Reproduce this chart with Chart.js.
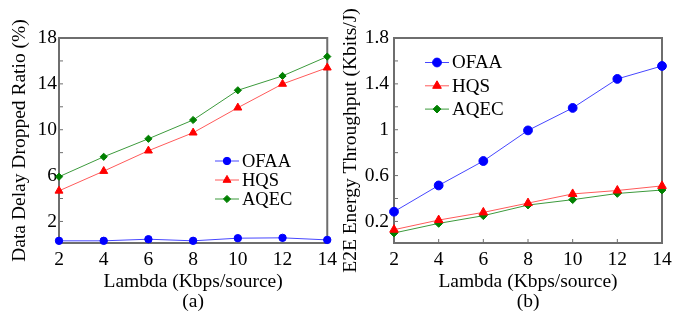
<!DOCTYPE html>
<html>
<head>
<meta charset="utf-8">
<script src="https://cdn.jsdelivr.net/npm/chart.js@4.4.1/dist/chart.umd.min.js"></script>
<style>
  html, body { margin: 0; padding: 0; background: #fff; }
  #wrap { position: relative; width: 684px; height: 321px; }
  canvas { position: absolute; top: 0; }
  #chartA { left: 0; }
  #chartB { left: 342px; }
</style>
</head>
<body>
<div id="wrap">
  <canvas id="chartA" width="342" height="321"></canvas>
  <canvas id="chartB" width="342" height="321"></canvas>
</div>
<script>
// x values (Kbps/source)
const lambda = [2, 4, 6, 8, 10, 12, 14];

// (a) data delay dropped ratio, %
const dropOFAA = [0.31, 0.31, 0.45, 0.31, 0.54, 0.57, 0.39];
const dropHQS  = [4.67, 6.39, 8.17, 9.74, 11.92, 13.99, 15.41];
const dropAQEC = [5.9, 7.64, 9.21, 10.85, 13.44, 14.69, 16.38];

// (b) e2e energy throughput, Kbits/J
const energyOFAA = [0.285, 0.514, 0.727, 0.994, 1.19, 1.443, 1.556];
const energyHQS  = [0.128, 0.212, 0.279, 0.36, 0.44, 0.47, 0.51];
const energyAQEC = [0.099, 0.183, 0.25, 0.343, 0.39, 0.444, 0.474];

const seriesNames = ["OFAA", "HQS", "AQEC"];

const yTicksA = [2, 6, 10, 14, 18];
const yMinorA = [4, 8, 12, 16];
const yTicksB = [0.2, 0.6, 1, 1.4, 1.8];
const yMinorB = [0.4, 0.8, 1.2, 1.6];

const FONT = "'Liberation Serif', 'Times New Roman', serif";

const styles = [
  { line: "#4646ff", point: "#0000ff", shape: "circle" },
  { line: "#ff5a5a", point: "#ff0000", shape: "triangle" },
  { line: "#3c9a3c", point: "#008000", shape: "rectRot" }
];

// frame + inward ticks (bottom and left only)
const framePlugin = {
  id: "frame",
  beforeDatasetsDraw(chart, args, opts) {
    const { ctx, chartArea: a, scales } = chart;
    ctx.save();
    ctx.strokeStyle = "#6e6e6e";
    ctx.lineWidth = 1;
    ctx.beginPath();
    for (let i = 0; i < lambda.length; i++) {
      const x = scales.x.getPixelForValue(i);
      ctx.moveTo(x, a.bottom);
      ctx.lineTo(x, a.bottom - 4);
    }
    for (const v of opts.major.concat(opts.minor)) {
      const y = scales.y.getPixelForValue(v);
      ctx.moveTo(a.left, y);
      ctx.lineTo(a.left + 4, y);
    }
    ctx.stroke();
    ctx.lineWidth = 2;
    ctx.strokeRect(a.left, a.top, a.right - a.left, a.bottom - a.top);
    ctx.restore();
  }
};

// legend drawn inside the plot
const boxLegend = {
  id: "boxLegend",
  afterDatasetsDraw(chart, args, opts) {
    const { ctx } = chart;
    ctx.save();
    chart.data.datasets.forEach((ds, i) => {
      const y = opts.y + i * opts.gap;
      ctx.strokeStyle = ds.borderColor;
      ctx.lineWidth = 1;
      ctx.beginPath();
      ctx.moveTo(opts.x, y);
      ctx.lineTo(opts.x + opts.len, y);
      ctx.stroke();
      ctx.fillStyle = ds.pointBackgroundColor;
      ctx.strokeStyle = ds.pointBackgroundColor;
      Chart.helpers.drawPoint(ctx, {
        pointStyle: ds.pointStyle,
        radius: ds.pointRadius,
        rotation: 0,
        borderWidth: 1
      }, opts.x + opts.len / 2, y);
      ctx.fillStyle = "#000";
      ctx.font = opts.size + "px " + FONT;
      ctx.textBaseline = "middle";
      ctx.textAlign = "left";
      ctx.fillText(ds.label, opts.x + opts.len + 3, y + 1);
    });
    ctx.restore();
  }
};

function makeDatasets(values, radii) {
  return values.map((vals, i) => ({
    label: seriesNames[i],
    data: vals,
    borderColor: styles[i].line,
    borderWidth: 1,
    pointStyle: styles[i].shape,
    pointRadius: radii[i],
    pointBackgroundColor: styles[i].point,
    pointBorderColor: styles[i].point,
    pointBorderWidth: 1,
    tension: 0,
    clip: false
  }));
}

function makeChart(id, cfg) {
  const tickFont = { family: FONT, size: 19.5 };
  return new Chart(document.getElementById(id), {
    type: "line",
    data: {
      labels: lambda.map(String),
      datasets: makeDatasets(cfg.values, cfg.radii)
    },
    options: {
      responsive: false,
      animation: false,
      events: [],
      layout: { padding: { left: 0, right: cfg.padRight, top: 38, bottom: 0 } },
      plugins: {
        legend: { display: false },
        tooltip: { enabled: false },
        frame: { major: cfg.yTicks, minor: cfg.yMinor },
        boxLegend: cfg.legend
      },
      scales: {
        x: {
          type: "category",
          offset: false,
          grid: { display: false, drawTicks: false },
          border: { display: false },
          ticks: { color: "#000", font: tickFont, padding: 5, maxRotation: 0 },
          afterFit: s => { s.height = 78; },
          title: {
            display: true,
            text: ["Lambda (Kbps/source)", cfg.caption],
            color: "#000",
            font: { family: FONT, size: 19.5, lineHeight: 20 / 19.5 },
            padding: { top: 0, bottom: 9 }
          }
        },
        y: {
          min: cfg.yMin,
          max: cfg.yMax,
          afterBuildTicks: s => { s.ticks = cfg.yTicks.map(v => ({ value: v })); },
          afterFit: s => { s.width = cfg.yWidth; },
          grid: { display: false, drawTicks: false },
          border: { display: false },
          ticks: { color: "#000", font: tickFont, padding: cfg.tickPad, callback: v => String(v) },
          title: {
            display: true,
            text: cfg.yTitle,
            color: "#000",
            font: { family: FONT, size: 19.5, lineHeight: 1 },
            padding: { top: cfg.titlePad, bottom: 0 }
          }
        }
      }
    },
    plugins: [framePlugin, boxLegend]
  });
}

makeChart("chartA", {
  values: [dropOFAA, dropHQS, dropAQEC],
  radii: [3.7, 4.6, 3.6],
  yMin: 0.12, yMax: 18,
  yTicks: yTicksA, yMinor: yMinorA,
  yWidth: 59, padRight: 14, tickPad: 2, titlePad: 10,
  yTitle: "Data Delay Dropped Ratio (%)",
  caption: "(a)",
  legend: { x: 215, y: 161, gap: 19, len: 24, size: 18.5 }
});

makeChart("chartB", {
  values: [energyOFAA, energyHQS, energyAQEC],
  radii: [4.4, 5, 3.9],
  yMin: 0.012, yMax: 1.8,
  yTicks: yTicksB, yMinor: yMinorB,
  yWidth: 52, padRight: 22, tickPad: 5, titlePad: -1,
  yTitle: "E2E Energy Throughput (Kbits/J)",
  caption: "(b)",
  legend: { x: 83, y: 62.5, gap: 23.3, len: 24, size: 19 }
});
</script>
</body>
</html>
